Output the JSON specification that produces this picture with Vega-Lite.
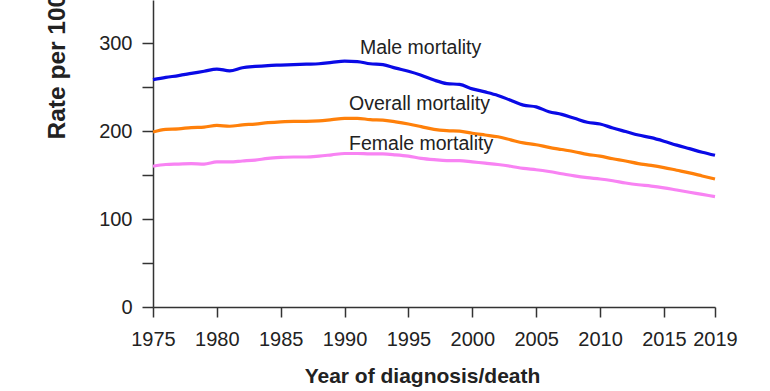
{
  "$schema": "https://vega.github.io/schema/vega-lite/v6.json",
  "autosize": {"type": "none"},
  "width": 562,
  "height": 307,
  "padding": {"left": 153, "top": 0, "right": 55, "bottom": 84},
  "background": "white",
  "config": {
    "view": {"stroke": null},
    "font": "Liberation Sans",
    "axis": {"grid": false, "domainColor": "#333333", "tickColor": "#333333", "domainWidth": 1.5, "tickWidth": 1.5, "labelColor": "#222222", "titleColor": "#222222", "labelFont": "Liberation Sans", "titleFont": "Liberation Sans"}
  },
  "datasets": {
    "series": [
      {"year":1975,"Male":258.5,"Overall":199,"Female":160},
      {"year":1976,"Male":261,"Overall":202,"Female":162},
      {"year":1977,"Male":263,"Overall":202.5,"Female":162.5},
      {"year":1978,"Male":265.5,"Overall":204,"Female":163},
      {"year":1979,"Male":268,"Overall":204.5,"Female":162.5},
      {"year":1980,"Male":270.5,"Overall":206.5,"Female":165},
      {"year":1981,"Male":268.5,"Overall":205.5,"Female":165},
      {"year":1982,"Male":272,"Overall":207,"Female":166},
      {"year":1983,"Male":273.5,"Overall":208,"Female":167},
      {"year":1984,"Male":274.5,"Overall":209.5,"Female":169},
      {"year":1985,"Male":275,"Overall":210.5,"Female":170},
      {"year":1986,"Male":275.5,"Overall":211,"Female":170.5},
      {"year":1987,"Male":276,"Overall":211,"Female":170.5},
      {"year":1988,"Male":276.5,"Overall":211.5,"Female":171.5},
      {"year":1989,"Male":278,"Overall":213,"Female":173},
      {"year":1990,"Male":279.5,"Overall":214.5,"Female":174.5},
      {"year":1991,"Male":279,"Overall":214.5,"Female":174.5},
      {"year":1992,"Male":276.5,"Overall":213,"Female":174},
      {"year":1993,"Male":275.5,"Overall":212.5,"Female":174},
      {"year":1994,"Male":271.5,"Overall":210.5,"Female":173},
      {"year":1995,"Male":268,"Overall":208,"Female":171.5},
      {"year":1996,"Male":263.5,"Overall":205,"Female":169},
      {"year":1997,"Male":258,"Overall":202,"Female":167.5},
      {"year":1998,"Male":254,"Overall":200.5,"Female":166.5},
      {"year":1999,"Male":253,"Overall":200,"Female":166.5},
      {"year":2000,"Male":248,"Overall":197.5,"Female":165},
      {"year":2001,"Male":244.5,"Overall":195.5,"Female":163.5},
      {"year":2002,"Male":240.5,"Overall":193.5,"Female":162},
      {"year":2003,"Male":235,"Overall":190,"Female":160},
      {"year":2004,"Male":229.5,"Overall":186.5,"Female":157.5},
      {"year":2005,"Male":227.5,"Overall":184.5,"Female":156},
      {"year":2006,"Male":222,"Overall":181.5,"Female":154},
      {"year":2007,"Male":219,"Overall":179,"Female":151.5},
      {"year":2008,"Male":214.5,"Overall":176.5,"Female":149},
      {"year":2009,"Male":210,"Overall":173.5,"Female":147},
      {"year":2010,"Male":208,"Overall":171.5,"Female":145.5},
      {"year":2011,"Male":203.5,"Overall":168.5,"Female":143.5},
      {"year":2012,"Male":199.5,"Overall":166,"Female":141},
      {"year":2013,"Male":195.5,"Overall":163,"Female":139},
      {"year":2014,"Male":192.5,"Overall":161,"Female":137.5},
      {"year":2015,"Male":188.5,"Overall":158.5,"Female":135.5},
      {"year":2016,"Male":184,"Overall":155.5,"Female":133},
      {"year":2017,"Male":180,"Overall":152.5,"Female":130.5},
      {"year":2018,"Male":176,"Overall":149,"Female":128},
      {"year":2019,"Male":172.5,"Overall":145.5,"Female":125.5}
    ],
    "labels": [
      {"year":1991.2,"value":295,"label":"Male mortality"},
      {"year":1990.35,"value":230.5,"label":"Overall  mortality"},
      {"year":1990.35,"value":185.2,"label":"Female mortality"}
    ]
  },
  "layer": [
    {
      "data": {"name": "series"},
      "transform": [{"fold": ["Male", "Overall", "Female"], "as": ["group", "rate"]}],
      "mark": {"type": "line", "strokeWidth": 3.2, "interpolate": "monotone"},
      "encoding": {
        "x": {
          "field": "year", "type": "quantitative",
          "scale": {"domain": [1975, 2019], "nice": false, "zero": false},
          "axis": {
            "title": "Year of diagnosis/death",
            "values": [1975,1980,1985,1990,1995,2000,2005,2010,2015,2019],
            "format": "d",
            "labelFontSize": 20,
            "labelOverlap": false,
            "labelFlush": false,
            "labelBaseline": "alphabetic",
            "tickSize": 10,
            "labelPadding": 28,
            "titleFontSize": 21,
            "titleFontWeight": "bold",
            "titleBaseline": "alphabetic",
            "titleX": 269,
            "titleY": 75
          }
        },
        "y": {
          "field": "rate", "type": "quantitative",
          "scale": {"domain": [0, 349], "nice": false},
          "axis": {
            "title": "Rate per 100,000",
            "values": [0,50,100,150,200,250,300],
            "labelExpr": "datum.value % 100 === 0 ? datum.label : ''",
            "labelFontSize": 20,
            "tickSize": 11,
            "labelPadding": 10,
            "titleFontSize": 24.5,
            "titleFontWeight": "bold",
            "titleAngle": -90,
            "titleAlign": "left",
            "titleBaseline": "alphabetic",
            "titleX": -89,
            "titleY": 139,
            "encode": {"ticks": {"update": {"x2": {"signal": "datum.value % 100 === 0 ? -11 : -7"}}}}
          }
        },
        "color": {
          "field": "group", "type": "nominal",
          "scale": {"domain": ["Male", "Overall", "Female"], "range": ["#0a0ae6", "#ff800a", "#f883f3"]},
          "legend": null
        }
      }
    },
    {
      "data": {"name": "labels"},
      "mark": {"type": "text", "align": "left", "baseline": "middle", "fontSize": 19.5, "font": "Liberation Sans", "color": "#222222"},
      "encoding": {
        "x": {"field": "year", "type": "quantitative"},
        "y": {"field": "value", "type": "quantitative"},
        "text": {"field": "label"}
      }
    }
  ]
}
